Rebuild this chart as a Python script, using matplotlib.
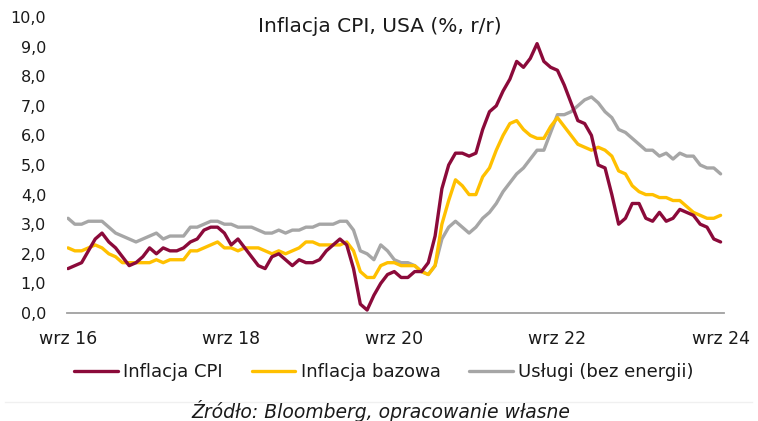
import numpy as np
import matplotlib.pyplot as plt

# monthly y/y, wrz 2016 .. wrz 2024
cpi = [1.5, 1.6, 1.7, 2.1,
       2.5, 2.7, 2.4, 2.2, 1.9, 1.6, 1.7, 1.9, 2.2, 2.0, 2.2, 2.1,
       2.1, 2.2, 2.4, 2.5, 2.8, 2.9, 2.9, 2.7, 2.3, 2.5, 2.2, 1.9,
       1.6, 1.5, 1.9, 2.0, 1.8, 1.6, 1.8, 1.7, 1.7, 1.8, 2.1, 2.3,
       2.5, 2.3, 1.5, 0.3, 0.1, 0.6, 1.0, 1.3, 1.4, 1.2, 1.2, 1.4,
       1.4, 1.7, 2.6, 4.2, 5.0, 5.4, 5.4, 5.3, 5.4, 6.2, 6.8, 7.0,
       7.5, 7.9, 8.5, 8.3, 8.6, 9.1, 8.5, 8.3, 8.2, 7.7, 7.1, 6.5,
       6.4, 6.0, 5.0, 4.9, 4.0, 3.0, 3.2, 3.7, 3.7, 3.2, 3.1, 3.4,
       3.1, 3.2, 3.5, 3.4, 3.3, 3.0, 2.9, 2.5, 2.4]
core = [2.2, 2.1, 2.1, 2.2,
        2.3, 2.2, 2.0, 1.9, 1.7, 1.7, 1.7, 1.7, 1.7, 1.8, 1.7, 1.8,
        1.8, 1.8, 2.1, 2.1, 2.2, 2.3, 2.4, 2.2, 2.2, 2.1, 2.2, 2.2,
        2.2, 2.1, 2.0, 2.1, 2.0, 2.1, 2.2, 2.4, 2.4, 2.3, 2.3, 2.3,
        2.3, 2.4, 2.1, 1.4, 1.2, 1.2, 1.6, 1.7, 1.7, 1.6, 1.6, 1.6,
        1.4, 1.3, 1.6, 3.0, 3.8, 4.5, 4.3, 4.0, 4.0, 4.6, 4.9, 5.5,
        6.0, 6.4, 6.5, 6.2, 6.0, 5.9, 5.9, 6.3, 6.6, 6.3, 6.0, 5.7,
        5.6, 5.5, 5.6, 5.5, 5.3, 4.8, 4.7, 4.3, 4.1, 4.0, 4.0, 3.9,
        3.9, 3.8, 3.8, 3.6, 3.4, 3.3, 3.2, 3.2, 3.3]
services = [3.2, 3.0, 3.0, 3.1,
            3.1, 3.1, 2.9, 2.7, 2.6, 2.5, 2.4, 2.5, 2.6, 2.7, 2.5, 2.6,
            2.6, 2.6, 2.9, 2.9, 3.0, 3.1, 3.1, 3.0, 3.0, 2.9, 2.9, 2.9,
            2.8, 2.7, 2.7, 2.8, 2.7, 2.8, 2.8, 2.9, 2.9, 3.0, 3.0, 3.0,
            3.1, 3.1, 2.8, 2.1, 2.0, 1.8, 2.3, 2.1, 1.8, 1.7, 1.7, 1.6,
            1.4, 1.3, 1.6, 2.5, 2.9, 3.1, 2.9, 2.7, 2.9, 3.2, 3.4, 3.7,
            4.1, 4.4, 4.7, 4.9, 5.2, 5.5, 5.5, 6.1, 6.7, 6.7, 6.8, 7.0,
            7.2, 7.3, 7.1, 6.8, 6.6, 6.2, 6.1, 5.9, 5.7, 5.5, 5.5, 5.3,
            5.4, 5.2, 5.4, 5.3, 5.3, 5.0, 4.9, 4.9, 4.7]
xtick_pos = [0, 24, 48, 72, 96]
xtick_labels = ['wrz 16', 'wrz 18', 'wrz 20', 'wrz 22', 'wrz 24']

x = np.arange(len(cpi))

fig = plt.figure(figsize=(7.58, 4.21), dpi=100)
ax = fig.add_axes([67 / 758, 108 / 421, 657 / 758, 296 / 421])

kw = dict(lw=2.4, solid_joinstyle='round', solid_capstyle='round')
ax.plot(x, cpi, color='#8B0A3A', label='Inflacja CPI', zorder=3, **kw)
ax.plot(x, core, color='#FFC000', label='Inflacja bazowa', zorder=2, **kw)
ax.plot(x, services, color='#A6A6A6', label='Usługi (bez energii)', zorder=1, **kw)

ax.set_xlim(-0.15, 96.5)
ax.set_ylim(0, 10)
ax.set_yticks(np.arange(0, 11, 1))
ax.set_yticklabels([f'{v:.1f}'.replace('.', ',') for v in range(11)])
ax.set_xticks(xtick_pos)
ax.set_xticklabels(xtick_labels)
ax.tick_params(length=0, colors='#1a1a1a')
ax.tick_params(axis='x', pad=12, labelsize=12.5)
ax.tick_params(axis='y', pad=15, labelsize=11.5)
for s in ['top', 'right', 'left']:
    ax.spines[s].set_visible(False)
ax.spines['bottom'].set_color('#A0A0A0')
ax.spines['bottom'].set_linewidth(1.3)
ax.spines['bottom'].set_zorder(0)

fig.text(380 / 758, 1 - 32 / 421, 'Inflacja CPI, USA (%, r/r)', ha='center', va='baseline',
         fontsize=14.5, color='#1a1a1a')

ax.legend(loc='center', bbox_to_anchor=(384 / 758, 1 - 372 / 421), bbox_transform=fig.transFigure,
          ncol=3, frameon=False, fontsize=13, handlelength=2.4, handletextpad=0.3,
          columnspacing=1.6, labelcolor='#1a1a1a')

fig.add_artist(plt.Line2D([5 / 758, 752 / 758], [1 - 402 / 421] * 2, color='#F0F0F0', lw=1))
fig.text(381 / 758, 3 / 421, 'Źródło: Bloomberg, opracowanie własne', ha='center', va='baseline',
         fontsize=13.5, style='italic', color='#1a1a1a')

fig.savefig('out.png', dpi=100)
